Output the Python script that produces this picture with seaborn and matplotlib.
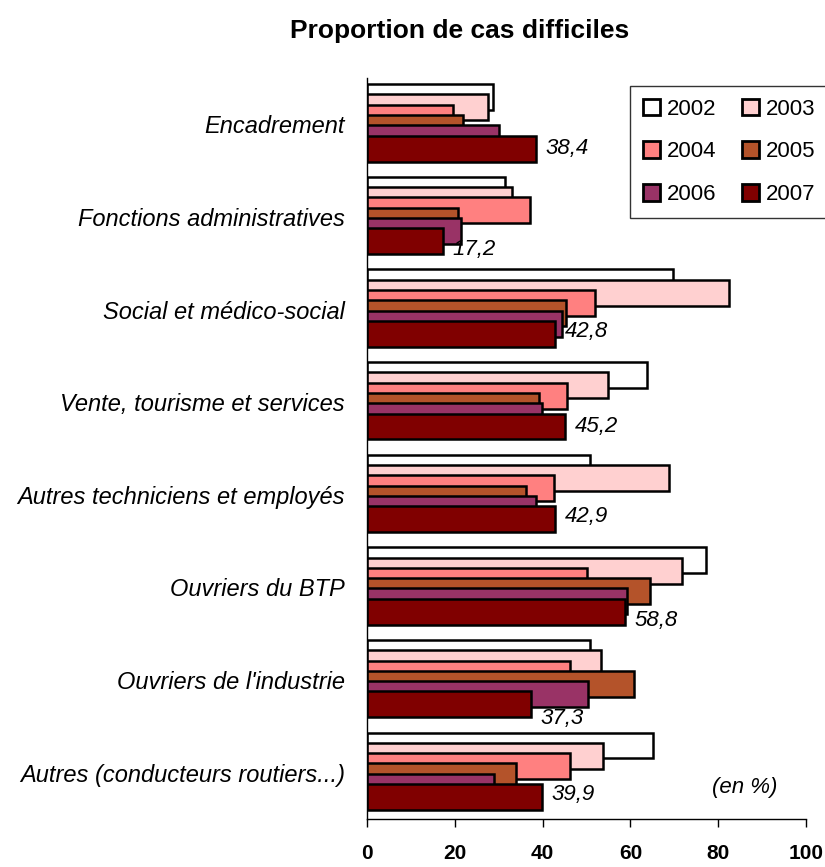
import matplotlib
matplotlib.use("Agg")
import matplotlib.pyplot as plt
from matplotlib.patches import Patch
import seaborn as sns
import pandas as pd

# categories (top to bottom) and yearly shares, in %
categories = [
    "Encadrement",
    "Fonctions administratives",
    "Social et médico-social",
    "Vente, tourisme et services",
    "Autres techniciens et employés",
    "Ouvriers du BTP",
    "Ouvriers de l'industrie",
    "Autres (conducteurs routiers...)",
]
years = ["2002", "2003", "2004", "2005", "2006", "2007"]
v2002 = [28.7, 31.4, 69.6, 63.8, 50.9, 77.2, 50.7, 65.2]
v2003 = [27.5, 33.1, 82.5, 54.9, 68.8, 71.7, 53.4, 53.7]
v2004 = [19.6, 37.2, 51.9, 45.6, 42.5, 50.1, 46.3, 46.2]
v2005 = [21.9, 20.7, 45.3, 39.1, 36.2, 64.5, 60.8, 34.0]
v2006 = [30.1, 21.3, 44.5, 39.9, 38.4, 59.3, 50.4, 28.9]
v2007 = [38.4, 17.2, 42.8, 45.2, 42.9, 58.8, 37.3, 39.9]
xticks = [0, 20, 40, 60, 80, 100]

colors = ["#FFFFFF", "#FFD0D0", "#FF8080", "#B4532A", "#993366", "#800000"]
# small vertical nudges (points) for the 2007 labels, as placed in the original
label_nudge = [0, 6, -2, 0, -2, 6, 10, -2]

rows = []
for y, vals in zip(years, [v2002, v2003, v2004, v2005, v2006, v2007]):
    for c, v in zip(categories, vals):
        rows.append({"category": c, "year": y, "value": v})
df = pd.DataFrame(rows)

sns.set_theme(style="white")
plt.rcParams["font.family"] = ["Liberation Sans", "DejaVu Sans"]
plt.rcParams["text.color"] = "black"
plt.rcParams["xtick.color"] = "black"
plt.rcParams["ytick.color"] = "black"

fig = plt.figure(figsize=(8.25, 8.67), dpi=100)
ax = fig.add_axes([367 / 825, 1 - 819 / 867, (806 - 367) / 825, (819 - 78) / 867])

sns.barplot(data=df, x="value", y="category", hue="year", orient="h",
            palette=dict(zip(years, colors)), width=0.667, gap=0, dodge=True,
            saturation=1, errorbar=None, edgecolor="black", linewidth=1.8,
            legend=False, ax=ax)

# excel-like overlapping bars: thicker bars, same step
for p in ax.patches:
    p.set_y(p.get_y() - 0.1)
    p.set_height(0.28)

for p, v, dy in zip(ax.containers[-1], v2007, label_nudge):
    ax.annotate(f"{v:.1f}".replace(".", ","),
                (p.get_x() + p.get_width(), p.get_y() + p.get_height() / 2),
                xytext=(7, -dy), textcoords="offset points",
                ha="left", va="center", fontsize=16, style="italic")

ax.set_xlim(0, 100)
ax.set_ylim(7.5, -0.5)
ax.set_xticks(xticks)
ax.set_xticklabels([str(t) for t in xticks], fontsize=15, fontweight="bold")
ax.set_yticks(range(len(categories)))
ax.set_yticklabels(categories, fontsize=17, style="italic")
ax.set_xlabel("")
ax.set_ylabel("")
ax.tick_params(axis="x", length=6, width=1, direction="out", pad=12, bottom=True)
ax.tick_params(axis="y", length=0, pad=16)
for s in ["top", "right"]:
    ax.spines[s].set_visible(False)
for s in ["left", "bottom"]:
    ax.spines[s].set_color("black")
    ax.spines[s].set_linewidth(1)

ax.text(86, 7.16, "(en %)", ha="center", va="center", fontsize=16, style="italic")

# row-major legend order like the original (2002 2003 / 2004 2005 / 2006 2007)
order = [0, 2, 4, 1, 3, 5]
handles = [Patch(facecolor=colors[i], edgecolor="black", linewidth=2) for i in order]
labels = [years[i] for i in order]
leg = fig.legend(handles, labels, loc="upper left",
                 bbox_to_anchor=(630 / 825, 1 - 86 / 867), ncol=2,
                 fontsize=16, frameon=True, fancybox=False, borderaxespad=0,
                 handlelength=0.77, handleheight=0.77, handletextpad=0.3,
                 labelspacing=0.97, columnspacing=1.15, borderpad=0.58)
leg.get_frame().set_edgecolor("black")
leg.get_frame().set_linewidth(1)

fig.text(460 / 825, 1 - 31 / 867, "Proportion de cas difficiles",
         ha="center", va="center", fontsize=19, fontweight="bold")

fig.savefig("out.png", dpi=100)
